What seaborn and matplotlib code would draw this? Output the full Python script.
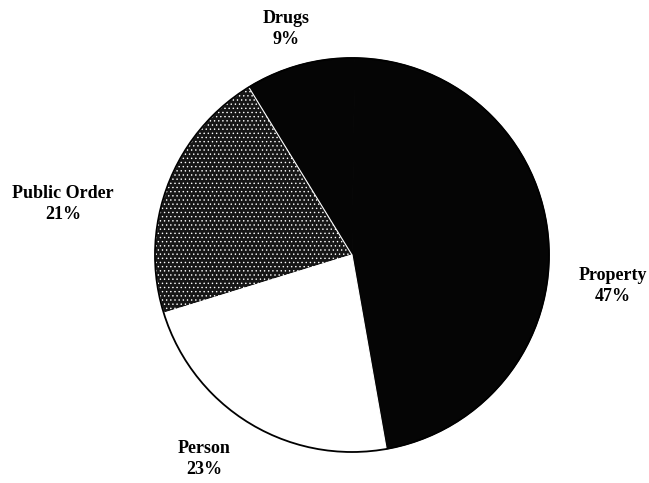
import matplotlib
matplotlib.use('Agg')
import matplotlib.pyplot as plt
import seaborn as sns
from matplotlib.patches import Circle

# data
categories = ['Property', 'Drugs', 'Public Order', 'Person']
shares = [47, 9, 21, 23]

sns.set_theme(style='white')
plt.rcParams['font.family'] = ['Liberation Serif', 'DejaVu Serif']
plt.rcParams['hatch.linewidth'] = 0.5

W, H = 649, 483
fig = plt.figure(figsize=(W / 100, H / 100), dpi=100)
ax = fig.add_axes([0, 0, 1, 1])
ax.set_xlim(0, W)
ax.set_ylim(0, H)
ax.set_aspect('equal')
ax.axis('off')

cx, cy, r = 352, H - 255, 197
faces = ['#050505', '#050505', '#161616', 'white']
edges = ['#050505', '#050505', 'white', 'white']
hatches = [None, None, '....', None]

wedges, _ = ax.pie(shares, center=(cx, cy), radius=r, startangle=-80,
                   counterclock=True, colors=faces,
                   wedgeprops=dict(linewidth=0.8))
for w, ec, h in zip(wedges, edges, hatches):
    w.set_edgecolor(ec)
    if h:
        w.set_hatch(h)
ax.add_patch(Circle((cx, cy), r, fill=False, edgecolor='black', linewidth=1.3))
ax.set_xlim(0, W)
ax.set_ylim(0, H)

# label placement in pixels (x, y from top)
label_pos = {'Property': (613, 286), 'Drugs': (286, 29),
             'Public Order': (63, 204), 'Person': (204, 459)}
for cat, val in zip(categories, shares):
    px, py = label_pos[cat]
    ax.text(px, H - py, f'{cat}\n{val}%', ha='center', va='center',
            fontsize=13, fontweight='bold', linespacing=1.35, color='black')

fig.savefig('out.png', dpi=100, facecolor='white')
